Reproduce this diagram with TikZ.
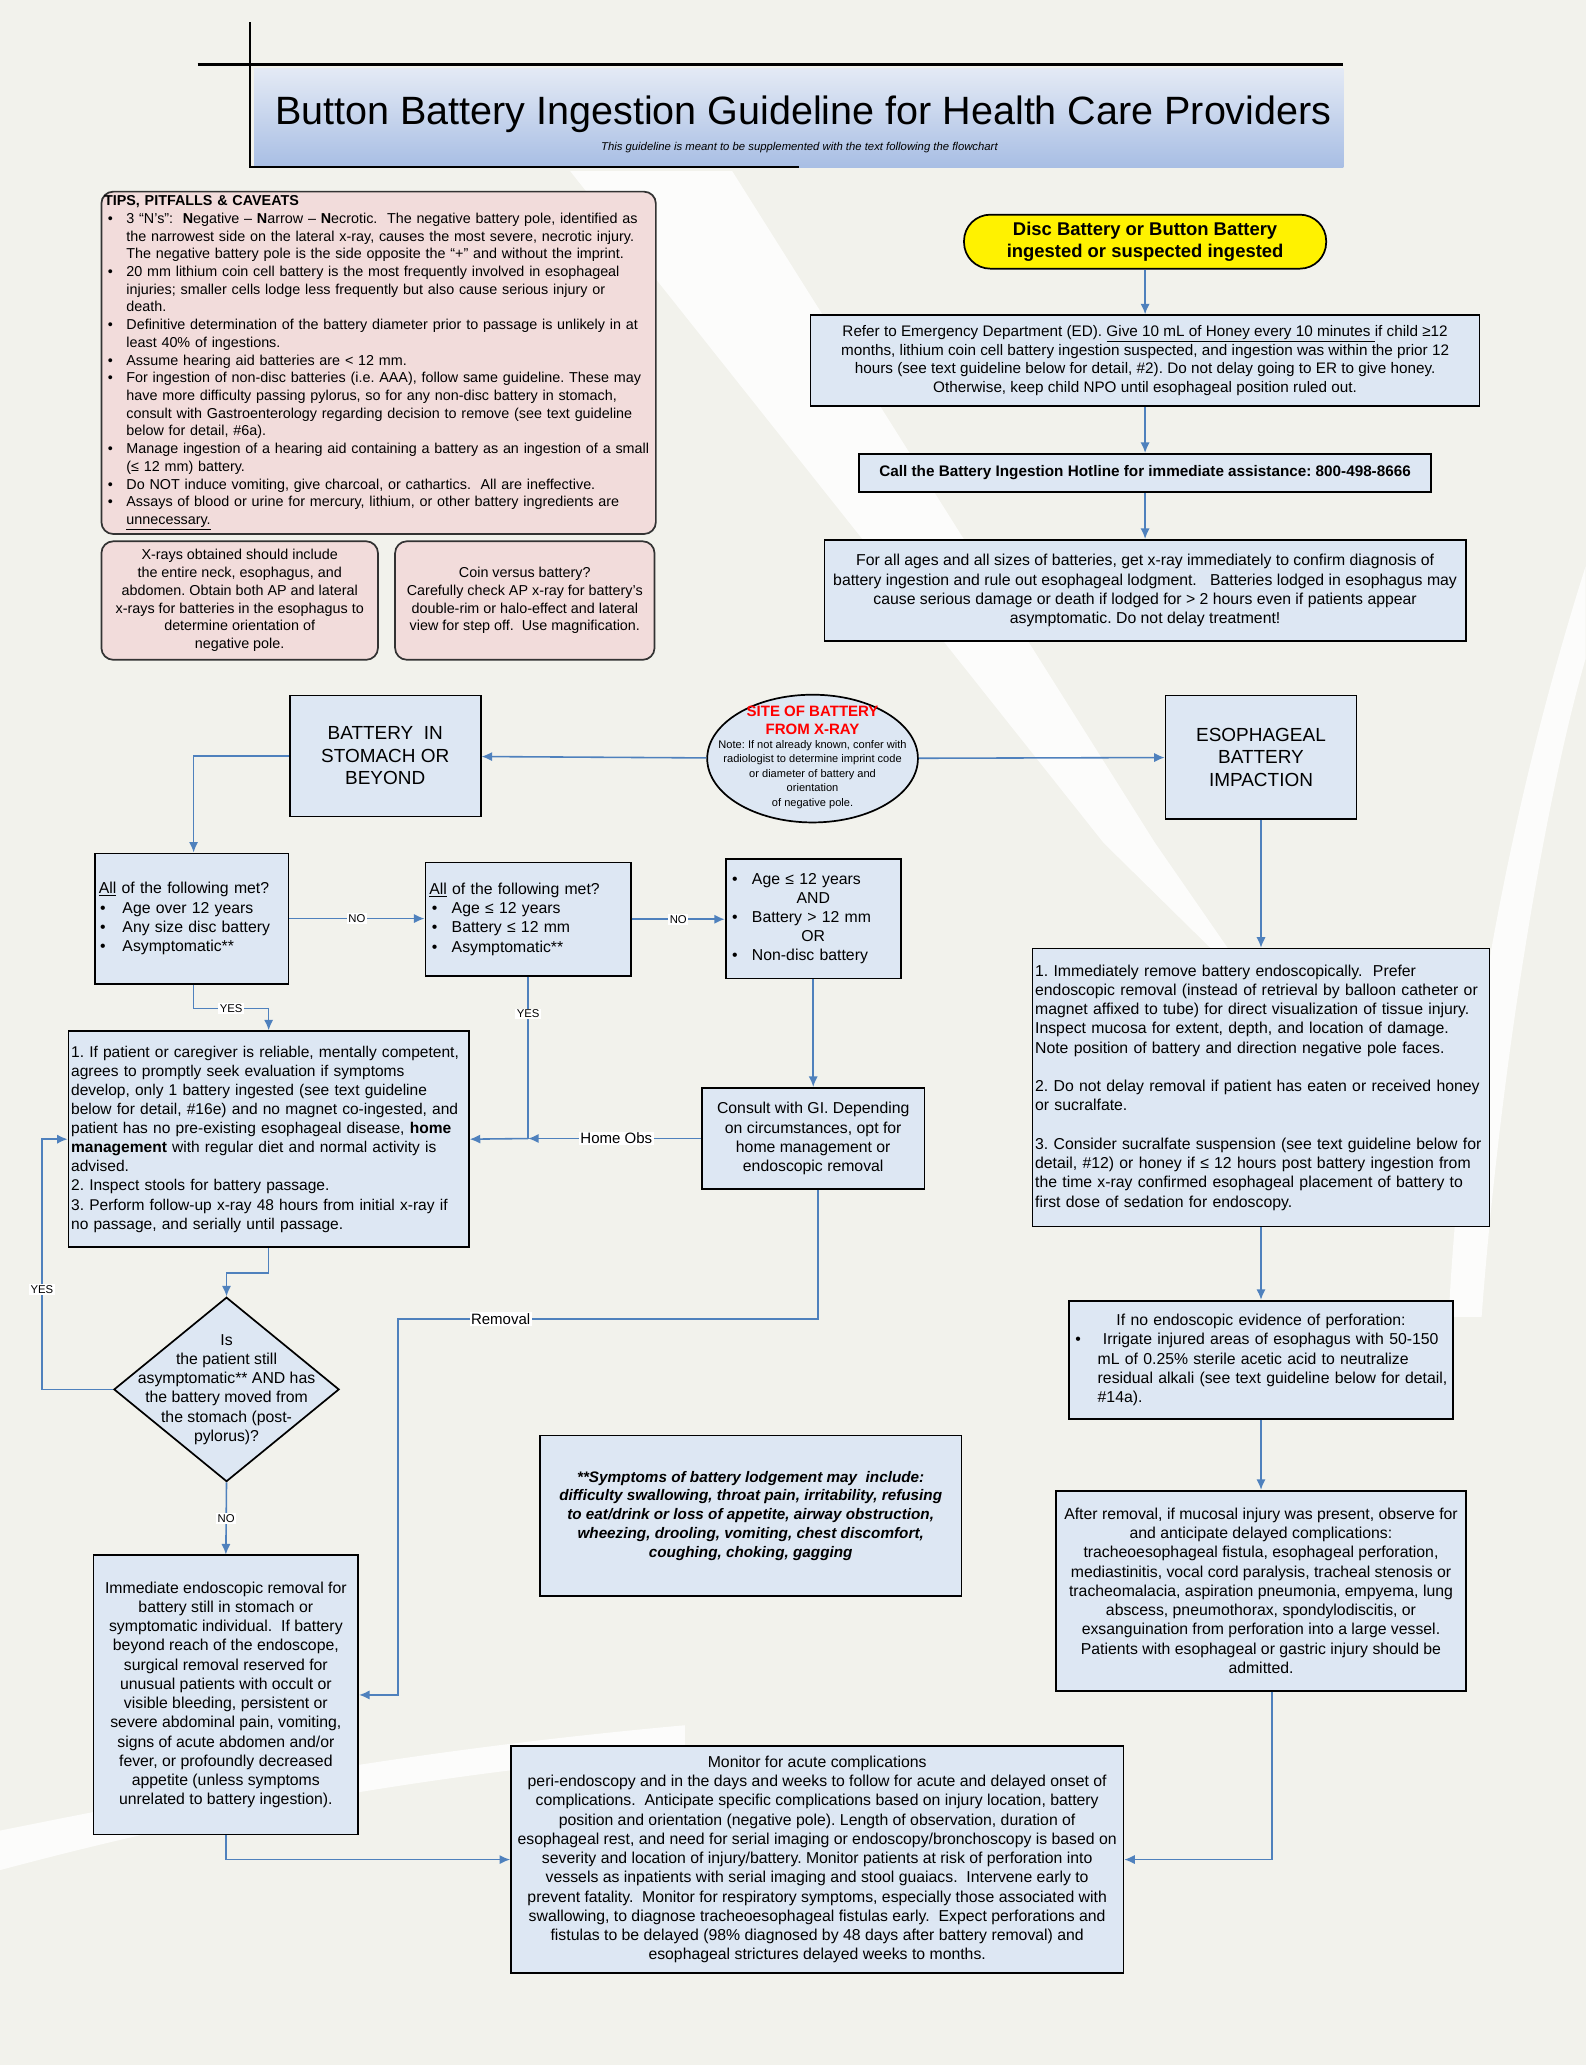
\documentclass[tikz,border=0pt]{standalone}
\usepackage{fontspec}
\setmainfont{Liberation Sans}
\usetikzlibrary{arrows.meta,positioning,shapes.geometric}
\definecolor{pagebg}{RGB}{242,242,236}
\definecolor{boxblue}{RGB}{221,231,243}
\definecolor{tippink}{RGB}{242,220,219}
\definecolor{flowblue}{RGB}{79,129,189}
\definecolor{titletop}{RGB}{228,234,245}
\definecolor{titlebot}{RGB}{168,190,228}
\newcommand{\fs}[2]{\fontsize{#1}{#2}\selectfont}
\newcommand{\bul}[2]{\hspace*{#1}\makebox[#2][l]{\textbullet}}
\frenchspacing

\begin{document}
\begin{tikzpicture}[x=1pt, y=-1pt,
  box/.style={draw, line width=1.3pt, fill=boxblue, align=center, inner sep=3pt, font=\fs{12}{14.6}},
  tip/.style={draw=black!80, line width=1.3pt, fill=tippink, rounded corners=9pt, align=center, inner sep=3pt, font=\fs{10.9}{13.45}},
  pill/.style={draw, line width=1.3pt, fill=yellow, rounded corners=20pt, align=center, font=\bfseries\fs{14}{17}},
  decision/.style={diamond, draw, line width=1.3pt, fill=boxblue, inner sep=0pt},
  oval/.style={ellipse, draw, line width=1.3pt, fill=boxblue, inner sep=0pt},
  arr/.style={draw=flowblue, line width=1.2pt, -{Latex[length=8pt,width=7pt]}},
  link/.style={draw=flowblue, line width=1.2pt},
  lbl/.style={fill=white, inner sep=1pt, font=\fs{8.6}{10}},
  lblbig/.style={fill=white, inner sep=1pt, font=\fs{11.4}{13}},
  rule/.style={line width=1.6pt}
]
  % page and background swooshes
  \fill[pagebg] (0,0) rectangle (1204,1568);
  \fill[white, opacity=.8] (433,130) -- (556,130) -- (877,640) -- (960,760) -- (838,640) -- cycle;
  \fill[white, opacity=.8] (1204,430) .. controls (1150,600) and (1110,800) .. (1100,1000)
    -- (1125,1000) .. controls (1140,800) and (1175,600) .. (1204,500) -- cycle;
  \fill[white, opacity=.8] (0,1390) .. controls (150,1360) and (300,1330) .. (520,1310)
    -- (520,1330) .. controls (300,1350) and (150,1380) .. (0,1420) -- cycle;

  % title
  \node[top color=titletop, bottom color=titlebot, minimum width=827pt, minimum height=75pt] (titlebar) at (606.5,89.5) {};
  \draw[rule] (150,49) -- (1020,49);
  \draw[rule] (190,17) -- (190,127) -- (607,127);
  \node[font=\fs{30}{34}] (titletext) at (610,87) {Button Battery Ingestion Guideline for Health Care Providers};
  \node[font=\itshape\fs{8.6}{10}] (subtitle) at (607,112) {This guideline is meant to be supplemented with the text following the flowchart};

  % tips, pitfalls and caveats
  \node[tip, align=left, inner xsep=2pt, text width=417pt, minimum height=259pt] (tips) at (287.5,275.5) {%
    \textbf{TIPS, PITFALLS \& CAVEATS}\\
    \bul{3pt}{14pt}3 “N’s”:\ \ \textbf{N}egative – \textbf{N}arrow – \textbf{N}ecrotic.\ \ The negative battery pole, identified as\\
    \hspace*{17pt}the narrowest side on the lateral x-ray, causes the most severe, necrotic injury.\\
    \hspace*{17pt}The negative battery pole is the side opposite the “+” and without the imprint.\\
    \bul{3pt}{14pt}20 mm lithium coin cell battery is the most frequently involved in esophageal\\
    \hspace*{17pt}injuries; smaller cells lodge less frequently but also cause serious injury or\\
    \hspace*{17pt}death.\\
    \bul{3pt}{14pt}Definitive determination of the battery diameter prior to passage is unlikely in at\\
    \hspace*{17pt}least 40\% of ingestions.\\
    \bul{3pt}{14pt}Assume hearing aid batteries are < 12 mm.\\
    \bul{3pt}{14pt}For ingestion of non-disc batteries (i.e. AAA), follow same guideline. These may\\
    \hspace*{17pt}have more difficulty passing pylorus, so for any non-disc battery in stomach,\\
    \hspace*{17pt}consult with Gastroenterology regarding decision to remove (see text guideline\\
    \hspace*{17pt}below for detail, \#6a).\\
    \bul{3pt}{14pt}Manage ingestion of a hearing aid containing a battery as an ingestion of a small\\
    \hspace*{17pt}(≤ 12 mm) battery.\\
    \bul{3pt}{14pt}Do NOT induce vomiting, give charcoal, or cathartics.\ \ All are ineffective.\\
    \bul{3pt}{14pt}Assays of blood or urine for mercury, lithium, or other battery ingredients are\\
    \hspace*{17pt}\underline{unnecessary.}};
  \node[tip, minimum width=210pt, minimum height=90pt] (xraytip) at (182,456) {X-rays obtained should include\\the entire neck, esophagus, and\\abdomen. Obtain both AP and lateral\\x-rays for batteries in the esophagus to\\determine orientation of\\negative pole.};
  \node[tip, minimum width=197pt, minimum height=90pt] (cointip) at (398.5,456) {Coin versus battery?\\Carefully check AP x-ray for battery’s\\double-rim or halo-effect and lateral\\view for step off.\ \ Use magnification.};

  % right column, top
  \node[pill, minimum width=275pt, minimum height=41pt] (start) at (869.5,183.5) {Disc Battery or Button Battery\\ingested or suspected ingested};
  \node[box, font=\fs{11.6}{14.3}, minimum width=508pt, minimum height=69pt, below=34pt of start] (refer) {Refer to Emergency Department (ED). \underline{Give 10 mL of Honey every 10 minutes }if child ≥12\\months, lithium coin cell battery ingestion suspected, and ingestion was within the prior 12\\hours (see text guideline below for detail, \#2). Do not delay going to ER to give honey.\\Otherwise, keep child NPO until esophageal position ruled out.};
  \node[box, font=\bfseries\fs{11.6}{14}, minimum width=434pt, minimum height=29pt, below=35pt of refer] (hotline) {Call the Battery Ingestion Hotline for immediate assistance: 800-498-8666};
  \node[box, minimum width=487pt, minimum height=77pt, below=35pt of hotline] (xray) {For all ages and all sizes of batteries, get x-ray immediately to confirm diagnosis of\\battery ingestion and rule out esophageal lodgment.\ \ \ Batteries lodged in esophagus may\\cause serious damage or death if lodged for > 2 hours even if patients appear\\asymptomatic. Do not delay treatment!};

  % site of battery
  \node[oval, minimum width=160pt, minimum height=97pt] (site) at (617,576) {};
  \node[font=\bfseries\fs{11.4}{14}, text=red, align=center] (sitehead) at (617,547) {SITE OF BATTERY\\FROM X-RAY};
  \node[font=\fs{8.4}{11}, align=center] (sitenote) at (617,588) {Note: If not already known, confer with\\radiologist to determine imprint code\\or diameter of battery and\\orientation\\of negative pole.};
  \node[box, font=\fs{14.4}{17}, minimum width=145pt, minimum height=92pt] (stomach) at (292.5,574) {BATTERY\ \ IN\\STOMACH OR\\BEYOND};
  \node[box, font=\fs{14.4}{17}, minimum width=145pt, minimum height=94pt] (esoph) at (957.5,575) {ESOPHAGEAL\\BATTERY\\IMPACTION};

  % stomach branch
  \node[box, align=left, text width=141pt, minimum height=99pt] (critA) at (145.5,697.5) {\underline{All} of the following met?\\\bul{1pt}{17pt}Age over 12 years\\\bul{1pt}{17pt}Any size disc battery\\\bul{1pt}{17pt}Asymptomatic**};
  \node[box, align=left, text width=150pt, minimum height=86pt] (critB) at (401,698) {\underline{All} of the following met?\\\bul{2pt}{15pt}Age ≤ 12 years\\\bul{2pt}{15pt}Battery ≤ 12 mm\\\bul{2pt}{15pt}Asymptomatic**};
  \node[box, align=left, text width=127pt, minimum height=91pt] (critC) at (617.5,697.5) {\bul{2pt}{15pt}Age ≤ 12 years\\\makebox[\linewidth]{AND}\\\bul{2pt}{15pt}Battery > 12 mm\\\makebox[\linewidth]{OR}\\\bul{2pt}{15pt}Non-disc battery};
  \node[box, minimum width=169pt, minimum height=77pt] (consult) at (617.5,864.5) {Consult with GI. Depending\\on circumstances, opt for\\home management or\\endoscopic removal};
  \node[box, font=\fs{11.8}{14.5}, align=left, inner xsep=2pt, text width=300pt, minimum height=164pt] (home) at (204,865) {1. If patient or caregiver is reliable, mentally competent,\\agrees to promptly seek evaluation if symptoms\\develop, only 1 battery ingested (see text guideline\\below for detail, \#16e) and no magnet co-ingested, and\\patient has no pre-existing esophageal disease, \textbf{home}\\\textbf{management} with regular diet and normal activity is\\advised.\\2. Inspect stools for battery passage.\\3. Perform follow-up x-ray 48 hours from initial x-ray if\\no passage, and serially until passage.};
  \node[decision, minimum width=171pt, minimum height=140pt] (check) at (172,1055) {};
  \node[font=\fs{12}{14.6}, align=center] (checktext) at (check.center) {Is\\the patient still\\asymptomatic** AND has\\the battery moved from\\the stomach (post-\\pylorus)?};
  \node[box, minimum width=201pt, minimum height=212pt] (immediate) at (171.5,1287) {Immediate endoscopic removal for\\battery still in stomach or\\symptomatic individual.\ \ If battery\\beyond reach of the endoscope,\\surgical removal reserved for\\unusual patients with occult or\\visible bleeding, persistent or\\severe abdominal pain, vomiting,\\signs of acute abdomen and/or\\fever, or profoundly decreased\\appetite (unless symptoms\\unrelated to battery ingestion).};
  \node[box, font=\bfseries\itshape\fs{11.6}{14.3}, minimum width=320pt, minimum height=122pt] (symptoms) at (570,1151) {**Symptoms of battery lodgement may\ \ include:\\difficulty swallowing, throat pain, irritability, refusing\\to eat/drink or loss of appetite, airway obstruction,\\wheezing, drooling, vomiting, chest discomfort,\\coughing, choking, gagging};
  \node[box, minimum width=465pt, minimum height=172pt] (monitor) at (620.5,1412) {Monitor for acute complications\\peri-endoscopy and in the days and weeks to follow for acute and delayed onset of\\complications.\ \ Anticipate specific complications based on injury location, battery\\position and orientation (negative pole). Length of observation, duration of\\esophageal rest, and need for serial imaging or endoscopy/bronchoscopy is based on\\severity and location of injury/battery. Monitor patients at risk of perforation into\\vessels as inpatients with serial imaging and stool guaiacs.\ \ Intervene early to\\prevent fatality.\ \ Monitor for respiratory symptoms, especially those associated with\\swallowing, to diagnose tracheoesophageal fistulas early.\ \ Expect perforations and\\fistulas to be delayed (98\% diagnosed by 48 days after battery removal) and\\esophageal strictures delayed weeks to months.};

  % esophageal branch
  \node[box, align=left, inner xsep=2pt, text width=343pt, minimum height=211pt, below=97pt of esoph] (remove) {1. Immediately remove battery endoscopically.\ \ Prefer\\endoscopic removal (instead of retrieval by balloon catheter or\\magnet affixed to tube) for direct visualization of tissue injury.\\Inspect mucosa for extent, depth, and location of damage.\\Note position of battery and direction negative pole faces.\\[14.6pt]2. Do not delay removal if patient has eaten or received honey\\or sucralfate.\\[14.6pt]3. Consider sucralfate suspension (see text guideline below for\\detail, \#12) or honey if ≤ 12 hours post battery ingestion from\\the time x-ray confirmed esophageal placement of battery to\\first dose of sedation for endoscopy.};
  \node[box, align=left, text width=286pt, minimum height=90pt, below=55pt of remove] (irrigate) {\makebox[\linewidth]{If no endoscopic evidence of perforation:}\\\bul{2pt}{17pt} Irrigate injured areas of esophagus with 50-150\\\hspace*{19pt}mL of 0.25\% sterile acetic acid to neutralize\\\hspace*{19pt}residual alkali (see text guideline below for detail,\\\hspace*{19pt}\#14a).};
  \node[box, minimum width=311pt, minimum height=152pt, below=53pt of irrigate] (after) {After removal, if mucosal injury was present, observe for\\and anticipate delayed complications:\\tracheoesophageal fistula, esophageal perforation,\\mediastinitis, vocal cord paralysis, tracheal stenosis or\\tracheomalacia, aspiration pneumonia, empyema, lung\\abscess, pneumothorax, spondylodiscitis, or\\exsanguination from perforation into a large vessel.\\Patients with esophageal or gastric injury should be\\admitted.};

  % connectors
  \draw[arr] (start) -- (refer);
  \draw[arr] (refer) -- (hotline);
  \draw[arr] (hotline) -- (xray);
  \draw[arr] (site) -- (stomach);
  \draw[arr] (site) -- (esoph);
  \draw[arr] (stomach.west) -| ([xshift=1.5pt]critA.north);
  \draw[arr] (critA.east) -- node[lbl]{NO} (critA.east -| critB.west);
  \draw[arr] (critB.east) -- node[lbl]{NO} (critB.east -| critC.west);
  \draw[arr] (critC.south) -- (critC.south |- consult.north);
  \draw[arr] ([xshift=1.5pt]critA.south) -- ++(0,18) -| node[lbl, pos=0.25]{YES} (home.north);
  \coordinate (obsjoin) at (critB.south |- consult.west);
  \draw[link] (critB.south) -- node[lbl, pos=0.23]{YES} (obsjoin);
  \draw[arr] (consult.west) -- node[lblbig, pos=0.49]{Home Obs} (obsjoin);
  \draw[arr] (obsjoin) -- (home.east);
  \draw[arr] (home.south) -- ++(0,19) -| (check.north);
  \draw[arr] (check.west) -- ++(-54,0) |- node[lbl, pos=0.2]{YES} (home.west);
  \draw[arr] (check.south) -- node[lbl]{NO} (immediate.north);
  \draw[arr] ([xshift=3.5pt]consult.south) -- ++(0,98) -- node[lblbig, pos=0.755]{Removal} ++(-319,0) |- (immediate.east);
  \draw[arr] (immediate.south) |- (monitor.west);
  \draw[arr] (esoph) -- (remove);
  \draw[arr] (remove) -- (irrigate);
  \draw[arr] (irrigate) -- (after);
  \draw[arr] ([xshift=8.5pt]after.south) |- (monitor.east);
  \useasboundingbox (0,0) rectangle (1204,1568);
\end{tikzpicture}
\end{document}
